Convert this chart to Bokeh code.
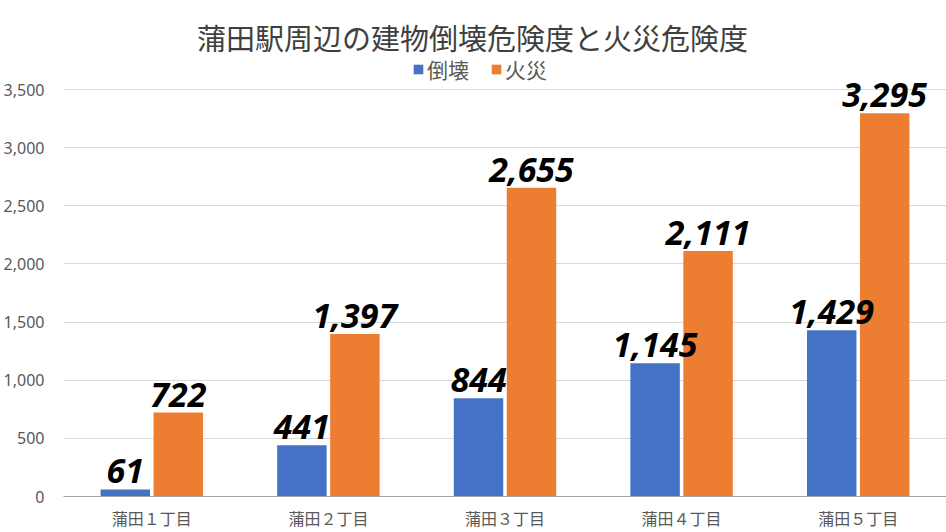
from bokeh.plotting import figure
from bokeh.models import (ColumnDataSource, FactorRange, FixedTicker, NumeralTickFormatter,
                          Legend, LegendItem, Label, Range1d)
from bokeh.transform import dodge
from bokeh.core.properties import value
from bokeh.embed import file_html
from bokeh.resources import INLINE

# ---- data ----
categories = ["蒲田１丁目", "蒲田２丁目", "蒲田３丁目", "蒲田４丁目", "蒲田５丁目"]
collapse = [61, 441, 844, 1145, 1429]     # 倒壊
fire = [722, 1397, 2655, 2111, 3295]      # 火災
series_names = ["倒壊", "火災"]
y_ticks = [0, 500, 1000, 1500, 2000, 2500, 3000, 3500]
title_text = "蒲田駅周辺の建物倒壊危険度と火災危険度"

BLUE = "#4472C4"
ORANGE = "#ED7D31"
CJK = "Noto Sans CJK JP"

src = ColumnDataSource(dict(
    cat=categories,
    collapse=collapse,
    fire=fire,
    collapse_lbl=[f"{v:,}" for v in collapse],
    fire_lbl=[f"{v:,}" for v in fire],
))

W, H = 946, 532
frame_bottom = 496
y_top_px = 89  # pixel row of top tick
y_end = y_ticks[-1] * frame_bottom / (frame_bottom - y_top_px)

p = figure(width=W, height=H,
           x_range=FactorRange(factors=categories, range_padding=0),
           y_range=Range1d(0, y_end),
           output_backend="svg", toolbar_location=None,
           min_border_left=63, min_border_right=0,
           min_border_top=0, min_border_bottom=H - frame_bottom)
p.outline_line_color = None
p.background_fill_color = "white"
p.border_fill_color = "white"

# axes
p.yaxis.ticker = FixedTicker(ticks=y_ticks)
p.yaxis.formatter = NumeralTickFormatter(format="0,0")
p.yaxis.axis_line_color = None
p.yaxis.major_tick_line_color = None
p.yaxis.minor_tick_line_color = None
p.yaxis.major_tick_out = 0
p.yaxis.major_tick_in = 0
p.yaxis.minor_tick_out = 0
p.yaxis.major_label_standoff = 19
p.yaxis.major_label_text_font = "Noto Sans"
p.yaxis.major_label_text_font_size = "16px"
p.yaxis.major_label_text_color = "#595959"

p.xaxis.axis_line_color = "#A6A6A6"
p.xaxis.axis_line_width = 1
p.xaxis.major_tick_line_color = None
p.xaxis.minor_tick_line_color = None
p.xaxis.major_tick_out = 0
p.xaxis.major_tick_in = 0
p.xaxis.minor_tick_out = 0
p.xaxis.major_label_standoff = 9
p.xaxis.major_label_text_font = CJK
p.xaxis.major_label_text_font_size = "16px"
p.xaxis.major_label_text_color = "#595959"

p.xgrid.grid_line_color = None
p.ygrid.grid_line_color = "#D9D9D9"
p.ygrid.grid_line_width = 1

# bars
r1 = p.vbar(x=dodge("cat", -0.15, range=p.x_range), top="collapse", width=0.28,
            source=src, fill_color=BLUE, line_color=None)
r2 = p.vbar(x=dodge("cat", 0.15, range=p.x_range), top="fire", width=0.28,
            source=src, fill_color=ORANGE, line_color=None)

# data labels
for off, col in [(-0.15, "collapse"), (0.15, "fire")]:
    p.text(x=dodge("cat", off, range=p.x_range), y=col, text=col + "_lbl", source=src,
           text_align="center", text_baseline="alphabetic", y_offset=-18,
           text_font=value("Noto Sans"), text_font_style="bold italic",
           text_font_size="34px", text_color="black")

# legend
legend = Legend(items=[LegendItem(label=series_names[0], renderers=[r1]),
                       LegendItem(label=series_names[1], renderers=[r2])],
                orientation="horizontal", location=(349, frame_bottom - 84),
                border_line_color=None, background_fill_alpha=0,
                padding=0, margin=0, spacing=21, label_standoff=3,
                glyph_width=12, glyph_height=12,
                label_text_font=CJK, label_text_font_size="21px",
                label_text_color="#595959")
p.add_layout(legend)

# title
title = Label(x=409, y=frame_bottom - 36, x_units="screen", y_units="screen",
              text=title_text, text_align="center", text_baseline="middle",
              text_font=CJK, text_font_size="29px", text_color="#404040")
p.add_layout(title)

open("out.html", "w").write(file_html(p, INLINE))
